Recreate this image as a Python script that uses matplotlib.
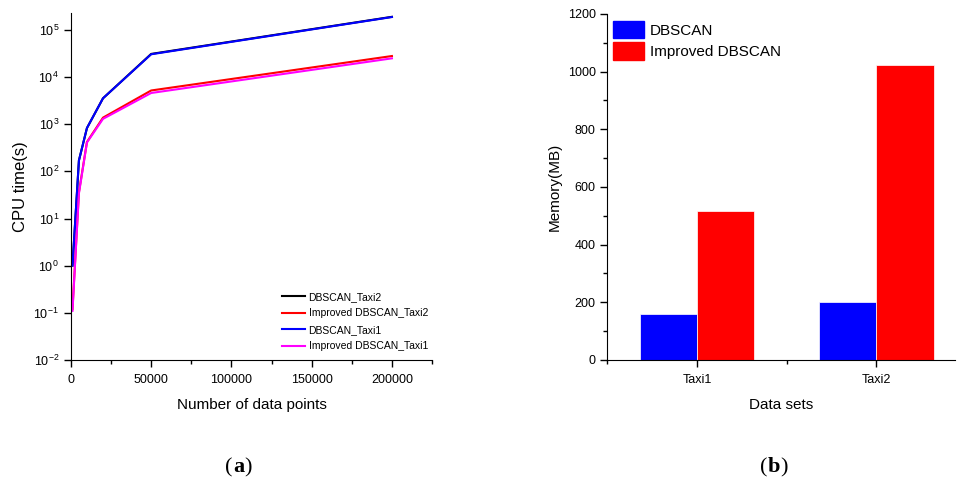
import numpy as np
import matplotlib
matplotlib.use("Agg")
from matplotlib import pyplot as plt
from matplotlib.patches import Patch
from matplotlib.ticker import MultipleLocator, LogLocator, NullFormatter

plt.rcParams['font.family'] = ['Liberation Sans', 'DejaVu Sans']
plt.rcParams['mathtext.default'] = 'regular'
plt.rcParams['axes.unicode_minus'] = False

# (a) CPU time vs number of data points
n_points = [1000, 5000, 10000, 20000, 50000, 200000]
dbscan_taxi2 = [1.0, 170, 830, 3550, 31000, 190000]
improved_taxi2 = [0.12, 36, 420, 1380, 5200, 28000]
dbscan_taxi1 = [1.0, 170, 830, 3550, 30500, 188000]
improved_taxi1 = [0.11, 34, 410, 1300, 4600, 25000]

# (b) memory usage
datasets = ['Taxi1', 'Taxi2']
mem_dbscan = [160, 201]
mem_improved = [517, 1021]

fig = plt.figure(figsize=(9.58, 4.78), dpi=100)

# ---- left panel
ax1 = fig.add_axes([0.074, 0.247, 0.377, 0.726])
ax1.plot(n_points, dbscan_taxi2, color='black', lw=1.5, label='DBSCAN_Taxi2')
ax1.plot(n_points, improved_taxi2, color='red', lw=1.5, label='Improved DBSCAN_Taxi2')
ax1.plot(n_points, dbscan_taxi1, color='blue', lw=1.5, label='DBSCAN_Taxi1')
ax1.plot(n_points, improved_taxi1, color='magenta', lw=1.5, label='Improved DBSCAN_Taxi1')
ax1.set_yscale('log')
ax1.set_ylim(0.01, 2.3e5)
ax1.set_xlim(0, 225000)
ax1.xaxis.set_major_locator(MultipleLocator(50000))
ax1.xaxis.set_minor_locator(MultipleLocator(25000))
ax1.yaxis.set_major_locator(LogLocator(base=10, numticks=10))
ax1.yaxis.set_minor_locator(LogLocator(base=10, subs=[], numticks=10))
ax1.yaxis.set_minor_formatter(NullFormatter())
for s in ['top', 'right']:
    ax1.spines[s].set_visible(False)
ax1.tick_params(which='both', direction='out', labelsize=9, width=1)
ax1.tick_params(which='major', length=5)
ax1.tick_params(axis='x', pad=5)
ax1.tick_params(which='minor', length=3)
ax1.set_xlabel('Number of data points', fontsize=11, labelpad=9)
ax1.set_ylabel('CPU time(s)', fontsize=12)
ax1.legend(loc='lower right', bbox_to_anchor=(1.0, 0.013), frameon=False, fontsize=7.5,
           handlelength=2.2, labelspacing=0.62, handletextpad=0.3, borderaxespad=0)

# ---- right panel
ax2 = fig.add_axes([0.634, 0.247, 0.363, 0.724])
x = np.arange(1, len(datasets) + 1)
w = 0.32
ax2.bar(x - w / 2, mem_dbscan, w, color='blue', edgecolor='white', linewidth=0.5, label='DBSCAN')
ax2.bar(x + w / 2, mem_improved, w, color='red', edgecolor='white', linewidth=0.5, label='Improved DBSCAN')
ax2.set_xlim(0.5, 2.44)
ax2.set_ylim(0, 1200)
ax2.set_xticks(x)
ax2.set_xticklabels(datasets)
ax2.xaxis.set_minor_locator(MultipleLocator(0.5))
ax2.yaxis.set_major_locator(MultipleLocator(200))
ax2.yaxis.set_minor_locator(MultipleLocator(100))
for s in ['top', 'right']:
    ax2.spines[s].set_visible(False)
ax2.tick_params(which='both', direction='out', labelsize=9, width=1)
ax2.tick_params(which='major', length=5)
ax2.tick_params(axis='x', pad=5)
ax2.tick_params(which='minor', length=3)
ax2.set_xlabel('Data sets', fontsize=11, labelpad=9)
ax2.set_ylabel('Memory(MB)', fontsize=11)
ax2.legend(handles=[Patch(color='blue'), Patch(color='red')],
           labels=['DBSCAN', 'Improved DBSCAN'], loc='upper left',
           bbox_to_anchor=(0.0, 0.998), frameon=False, fontsize=11,
           handlelength=2.0, handleheight=1.4, labelspacing=0.25, handletextpad=0.4,
           borderaxespad=0)

# captions
fig.text(0.243, 0.012, '(', fontsize=16, family='Liberation Serif', ha='right', va='baseline')
fig.text(0.243, 0.012, 'a', fontsize=16, family='Liberation Serif', weight='bold', ha='left', va='baseline')
fig.text(0.255, 0.012, ')', fontsize=16, family='Liberation Serif', ha='left', va='baseline')
fig.text(0.801, 0.012, '(', fontsize=16, family='Liberation Serif', ha='right', va='baseline')
fig.text(0.801, 0.012, 'b', fontsize=16, family='Liberation Serif', weight='bold', ha='left', va='baseline')
fig.text(0.814, 0.012, ')', fontsize=16, family='Liberation Serif', ha='left', va='baseline')

fig.savefig('out.png', dpi=100)
